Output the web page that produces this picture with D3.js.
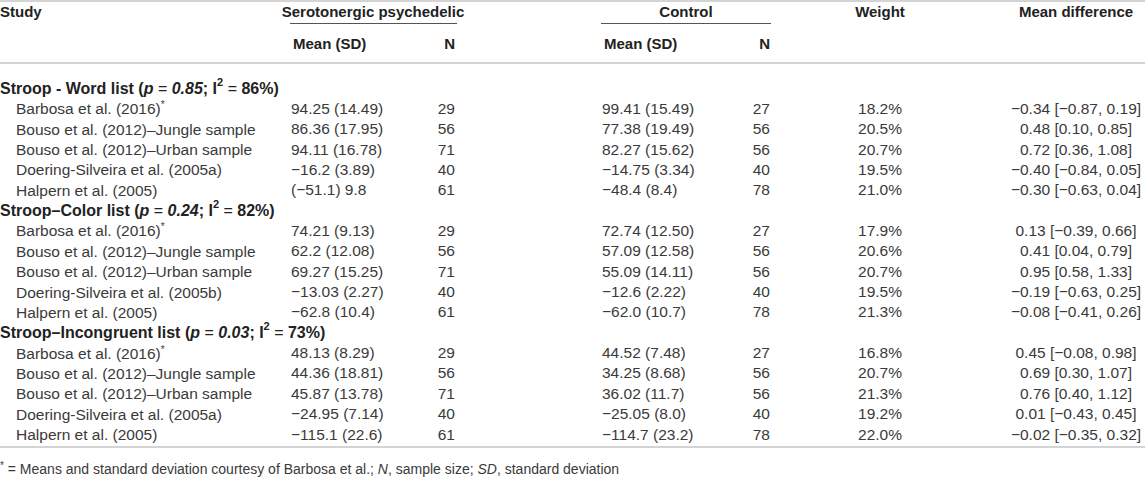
<!DOCTYPE html>
<html>
<head>
<meta charset="utf-8">
<script src="https://cdn.jsdelivr.net/npm/d3@7"></script>
<style>
  body { margin: 0; background: #fff; }
  svg { font-family: "Liberation Sans", Arial, sans-serif; }
  .hd { font-weight: bold; fill: #222; font-size: 16px; }
  .colhd { font-size: 15px; }
  .cell { fill: #3a3a3a; font-size: 15.5px; }
  .rule { stroke: #d4d4d4; stroke-width: 2; }
  .sub { stroke: #555; stroke-width: 1; }
</style>
</head>
<body>
<div id="chart"></div>
<script>
const width = 1145;
const height = 498;

// group headings
const groupNames = ["Stroop - Word list", "Stroop\u2013Color list", "Stroop\u2013Incongruent list"];
const groupP = ["0.85", "0.24", "0.03"];
const groupI2 = ["86%", "82%", "73%"];

// studies, five per group
const studies = [
  ["Barbosa et al. (2016)", "Bouso et al. (2012)\u2013Jungle sample", "Bouso et al. (2012)\u2013Urban sample", "Doering-Silveira et al. (2005a)", "Halpern et al. (2005)"],
  ["Barbosa et al. (2016)", "Bouso et al. (2012)\u2013Jungle sample", "Bouso et al. (2012)\u2013Urban sample", "Doering-Silveira et al. (2005b)", "Halpern et al. (2005)"],
  ["Barbosa et al. (2016)", "Bouso et al. (2012)\u2013Jungle sample", "Bouso et al. (2012)\u2013Urban sample", "Doering-Silveira et al. (2005a)", "Halpern et al. (2005)"]
];
const courtesy = [true, false, false, false, false];

const psyMean = [
  ["94.25 (14.49)", "86.36 (17.95)", "94.11 (16.78)", "\u221216.2 (3.89)", "(\u221251.1) 9.8"],
  ["74.21 (9.13)", "62.2 (12.08)", "69.27 (15.25)", "\u221213.03 (2.27)", "\u221262.8 (10.4)"],
  ["48.13 (8.29)", "44.36 (18.81)", "45.87 (13.78)", "\u221224.95 (7.14)", "\u2212115.1 (22.6)"]
];
const psyN = [[29, 56, 71, 40, 61], [29, 56, 71, 40, 61], [29, 56, 71, 40, 61]];

const ctlMean = [
  ["99.41 (15.49)", "77.38 (19.49)", "82.27 (15.62)", "\u221214.75 (3.34)", "\u221248.4 (8.4)"],
  ["72.74 (12.50)", "57.09 (12.58)", "55.09 (14.11)", "\u221212.6 (2.22)", "\u221262.0 (10.7)"],
  ["44.52 (7.48)", "34.25 (8.68)", "36.02 (11.7)", "\u221225.05 (8.0)", "\u2212114.7 (23.2)"]
];
const ctlN = [[27, 56, 56, 40, 78], [27, 56, 56, 40, 78], [27, 56, 56, 40, 78]];

const weights = [
  ["18.2%", "20.5%", "20.7%", "19.5%", "21.0%"],
  ["17.9%", "20.6%", "20.7%", "19.5%", "21.3%"],
  ["16.8%", "20.7%", "21.3%", "19.2%", "22.0%"]
];

const meanDiff = [
  ["\u22120.34 [\u22120.87, 0.19]", "0.48 [0.10, 0.85]", "0.72 [0.36, 1.08]", "\u22120.40 [\u22120.84, 0.05]", "\u22120.30 [\u22120.63, 0.04]"],
  ["0.13 [\u22120.39, 0.66]", "0.41 [0.04, 0.79]", "0.95 [0.58, 1.33]", "\u22120.19 [\u22120.63, 0.25]", "\u22120.08 [\u22120.41, 0.26]"],
  ["0.45 [\u22120.08, 0.98]", "0.69 [0.30, 1.07]", "0.76 [0.40, 1.12]", "0.01 [\u22120.43, 0.45]", "\u22120.02 [\u22120.35, 0.32]"]
];

// flatten into table rows
const rows = [];
groupNames.forEach((g, gi) => {
  rows.push({ type: "group", gi });
  studies[gi].forEach((s, si) => rows.push({ type: "study", gi, si }));
});

const y = d3.scalePoint().domain(d3.range(rows.length)).range([88, 434]);

// column anchors
const col = {
  study: 0, studyIndent: 16,
  psyMean: 291, psyN: 455, psyCenter: 373,
  ctlMean: 602, ctlN: 770, ctlCenter: 686,
  weight: 880, diff: 1076
};

const svg = d3.select("#chart").append("svg")
  .attr("width", width).attr("height", height);

// rules
svg.append("line").attr("class", "rule").attr("x1", 0).attr("x2", width).attr("y1", 1).attr("y2", 1);
svg.append("line").attr("class", "rule").attr("x1", 0).attr("x2", width).attr("y1", 63).attr("y2", 63);
svg.append("line").attr("class", "rule").attr("x1", 0).attr("x2", width).attr("y1", 447).attr("y2", 447);
svg.append("line").attr("class", "sub").attr("x1", 290).attr("x2", 457).attr("y1", 23.5).attr("y2", 23.5);
svg.append("line").attr("class", "sub").attr("x1", 601).attr("x2", 771).attr("y1", 23.5).attr("y2", 23.5);

// header
const head = svg.append("g").attr("class", "hd colhd").attr("dominant-baseline", "central");
head.append("text").attr("x", col.study).attr("y", 11).text("Study");
head.append("text").attr("x", col.psyCenter).attr("y", 11).attr("text-anchor", "middle").text("Serotonergic psychedelic");
head.append("text").attr("x", col.ctlCenter).attr("y", 11).attr("text-anchor", "middle").text("Control");
head.append("text").attr("x", col.weight).attr("y", 11).attr("text-anchor", "middle").text("Weight");
head.append("text").attr("x", col.diff).attr("y", 11).attr("text-anchor", "middle").text("Mean difference");
head.append("text").attr("x", col.psyMean + 2).attr("y", 43).text("Mean (SD)");
head.append("text").attr("x", col.psyN).attr("y", 43).attr("text-anchor", "end").text("N");
head.append("text").attr("x", col.ctlMean + 2).attr("y", 43).text("Mean (SD)");
head.append("text").attr("x", col.ctlN).attr("y", 43).attr("text-anchor", "end").text("N");

// group rows
const grp = svg.selectAll(".grp").data(rows.map((r, i) => ({ ...r, i })).filter(r => r.type === "group"))
  .enter().append("text")
  .attr("class", "hd grp")
  .attr("x", col.study)
  .attr("y", d => y(d.i))
  .attr("dominant-baseline", "central");
grp.each(function (d) {
  const t = d3.select(this);
  t.append("tspan").text(groupNames[d.gi] + " (");
  t.append("tspan").attr("font-style", "italic").text("p");
  t.append("tspan").attr("font-weight", "normal").text(" = ");
  t.append("tspan").attr("font-style", "italic").text(groupP[d.gi]);
  t.append("tspan").text("; I");
  t.append("tspan").attr("font-size", "11px").attr("dy", -6).text("2");
  t.append("tspan").attr("font-weight", "normal").attr("dy", 6).text(" = ");
  t.append("tspan").text(groupI2[d.gi] + ")");
});

// study rows
const studyRows = rows.map((r, i) => ({ ...r, i })).filter(r => r.type === "study");
const rg = svg.selectAll(".row").data(studyRows).enter().append("g")
  .attr("class", "cell row")
  .attr("transform", d => `translate(0,${y(d.i)})`);

const name = rg.append("text").attr("x", col.studyIndent).attr("dominant-baseline", "central");
name.append("tspan").text(d => studies[d.gi][d.si]);
name.filter(d => courtesy[d.si]).append("tspan").attr("font-size", "10px").attr("dy", -4).text("*");

rg.append("text").attr("x", col.psyMean).attr("dominant-baseline", "central").text(d => psyMean[d.gi][d.si]);
rg.append("text").attr("x", col.psyN).attr("text-anchor", "end").attr("dominant-baseline", "central").text(d => psyN[d.gi][d.si]);
rg.append("text").attr("x", col.ctlMean).attr("dominant-baseline", "central").text(d => ctlMean[d.gi][d.si]);
rg.append("text").attr("x", col.ctlN).attr("text-anchor", "end").attr("dominant-baseline", "central").text(d => ctlN[d.gi][d.si]);
rg.append("text").attr("x", col.weight).attr("text-anchor", "middle").attr("dominant-baseline", "central").text(d => weights[d.gi][d.si]);
rg.append("text").attr("x", col.diff).attr("text-anchor", "middle").attr("dominant-baseline", "central").text(d => meanDiff[d.gi][d.si]);

// footnote
const foot = svg.append("text").attr("class", "cell").attr("x", 0).attr("y", 469)
  .attr("dominant-baseline", "central").style("font-size", "14px");
foot.append("tspan").attr("font-size", "10px").attr("dy", -4).text("*");
foot.append("tspan").attr("dy", 4).text(" = Means and standard deviation courtesy of Barbosa et al.; ");
foot.append("tspan").attr("font-style", "italic").text("N");
foot.append("tspan").text(", sample size; ");
foot.append("tspan").attr("font-style", "italic").text("SD");
foot.append("tspan").text(", standard deviation");
</script>
</body>
</html>
